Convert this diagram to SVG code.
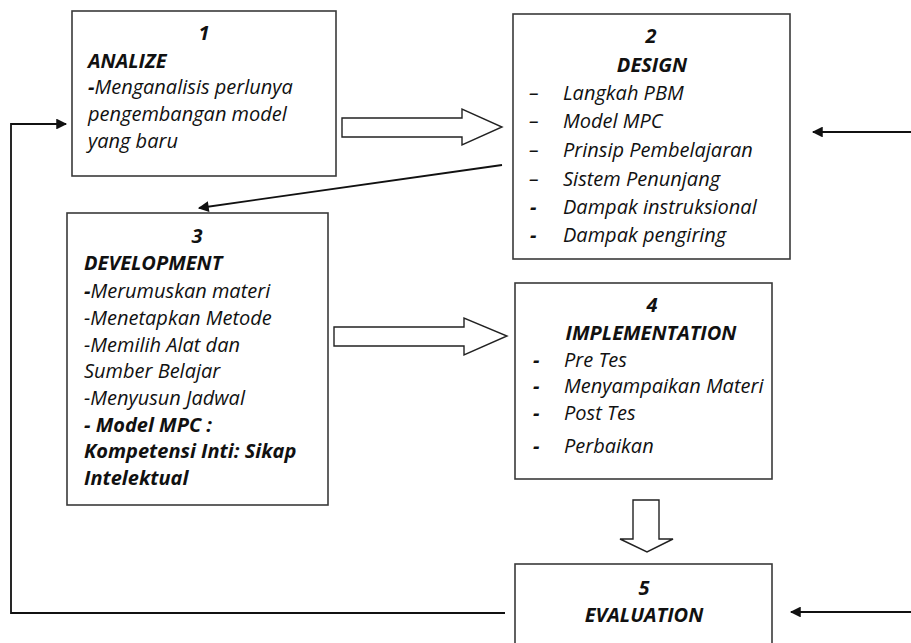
<svg xmlns="http://www.w3.org/2000/svg" width="911" height="643" viewBox="0 0 911 643">
<style>
.box{fill:#fff;stroke:#3a3a3a;stroke-width:1.6}
.t{font-family:"Open Sans","Liberation Sans",sans-serif;font-style:italic;font-size:20px;fill:#111}
.b{font-weight:bold}
.c{text-anchor:middle}
.ln{fill:none;stroke:#111;stroke-width:1.8}
.blk{fill:#fff;stroke:#222;stroke-width:1.4;stroke-linejoin:miter}
</style>
<defs>
<marker id="ah" viewBox="0 0 10 10" refX="9" refY="5" markerWidth="6.5" markerHeight="6" orient="auto" markerUnits="strokeWidth">
<path d="M0,0 L10,5 L0,10 z" fill="#111"/>
</marker>
</defs>
<rect width="911" height="643" fill="#fff"/>
<g id="connectors">
<path class="blk" d="M342,118 H462 V109 L502,127 L462,145 V137 H342 Z"/>
<line class="ln" x1="502" y1="165" x2="199" y2="208" marker-end="url(#ah)"/>
<path class="blk" d="M334,327 H464 V318 L507,336 L464,355 V346 H334 Z"/>
<path class="blk" d="M633,500 H659 V539 H673 L647,552 L620,539 H633 Z"/>
<path class="ln" d="M505,613 H11 V124 H66" marker-end="url(#ah)"/>
<line class="ln" x1="911" y1="132" x2="813" y2="132" marker-end="url(#ah)"/>
<line class="ln" x1="911" y1="612" x2="791" y2="612" marker-end="url(#ah)"/>
</g>
<g id="node1">
<rect class="box" x="72" y="11" width="264" height="165"/>
<text class="t b c" x="204" y="40">1</text>
<text class="t b" x="88" y="68">ANALIZE</text>
<text class="t" x="88" y="94"><tspan class="b">-</tspan>Menganalisis perlunya</text>
<text class="t" x="88" y="121">pengembangan model</text>
<text class="t" x="88" y="148">yang baru</text>
</g>
<g id="node2">
<rect class="box" x="513" y="14" width="277" height="245"/>
<text class="t b c" x="651" y="43">2</text>
<text class="t b c" x="652" y="72">DESIGN</text>
<text class="t" x="529" y="100">–</text><text class="t" x="563" y="100">Langkah PBM</text>
<text class="t" x="529" y="128">–</text><text class="t" x="563" y="128">Model MPC</text>
<text class="t" x="529" y="157">–</text><text class="t" x="563" y="157">Prinsip Pembelajaran</text>
<text class="t" x="529" y="186">–</text><text class="t" x="563" y="186">Sistem Penunjang</text>
<text class="t b" x="530" y="214">-</text><text class="t" x="563" y="214">Dampak instruksional</text>
<text class="t b" x="530" y="242">-</text><text class="t" x="563" y="242">Dampak pengiring</text>
</g>
<g id="node3">
<rect class="box" x="67" y="213" width="261" height="292"/>
<text class="t b c" x="197" y="243">3</text>
<text class="t b" x="84" y="270">DEVELOPMENT</text>
<text class="t" x="84" y="298"><tspan class="b">-</tspan>Merumuskan materi</text>
<text class="t" x="84" y="325">-Menetapkan Metode</text>
<text class="t" x="84" y="352">-Memilih Alat dan</text>
<text class="t" x="84" y="378">Sumber Belajar</text>
<text class="t" x="84" y="405">-Menyusun Jadwal</text>
<text class="t b" x="84" y="432">- Model MPC :</text>
<text class="t b" x="84" y="458">Kompetensi Inti: Sikap</text>
<text class="t b" x="84" y="485">Intelektual</text>
</g>
<g id="node4">
<rect class="box" x="515" y="283" width="257" height="196"/>
<text class="t b c" x="652" y="312">4</text>
<text class="t b c" x="651" y="340">IMPLEMENTATION</text>
<text class="t b" x="533" y="367">-</text><text class="t" x="564" y="367">Pre Tes</text>
<text class="t b" x="533" y="393">-</text><text class="t" x="564" y="393">Menyampaikan Materi</text>
<text class="t b" x="533" y="420">-</text><text class="t" x="564" y="420">Post Tes</text>
<text class="t b" x="533" y="453">-</text><text class="t" x="564" y="453">Perbaikan</text>
</g>
<g id="node5">
<rect class="box" x="515" y="564" width="257" height="90"/>
<text class="t b c" x="644" y="595">5</text>
<text class="t b c" x="644" y="622">EVALUATION</text>
</g>
</svg>
